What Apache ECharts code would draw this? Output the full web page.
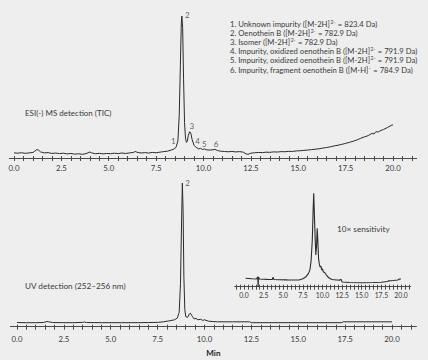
<!DOCTYPE html>
<html><head><meta charset="utf-8">
<script src="https://cdn.jsdelivr.net/npm/echarts@6/dist/echarts.min.js"></script>
<style>html,body{margin:0;padding:0;background:#eeeeee;}#c{width:428px;height:360px;}</style>
</head><body><div id="c"></div>
<script>
// MS (TIC) trace: time (min) and relative signal (axis = 0, main peak = 100)
const msTime = [0.0,0.2,0.4,0.6,0.8,1.0,1.1,1.2,1.3,1.4,1.6,1.8,2.0,2.2,2.4,2.6,2.8,3.0,3.2,3.4,3.6,3.8,4.0,4.1,4.3,4.5,4.7,4.9,5.1,5.3,5.5,5.7,5.9,6.1,6.3,6.4,6.5,6.7,6.9,7.1,7.3,7.5,7.7,7.9,8.1,8.3,8.45,8.55,8.65,8.72,8.78,8.83,8.86,8.9,8.95,9.0,9.05,9.1,9.15,9.2,9.27,9.33,9.4,9.5,9.6,9.65,9.75,9.85,9.95,10.05,10.15,10.3,10.45,10.6,10.75,10.9,11.1,11.3,11.5,11.7,11.9,12.1,12.25,12.35,12.5,12.7,12.9,13.1,13.3,13.5,13.7,13.9,14.1,14.3,14.5,14.7,14.9,15.1,15.3,15.5,15.7,15.9,16.1,16.3,16.5,16.7,16.9,17.1,17.3,17.5,17.7,17.9,18.1,18.3,18.5,18.7,18.9,19.0,19.1,19.2,19.3,19.5,19.7,19.9,20.0];
const msSignal = [3.6,3.4,3.7,3.3,3.6,3.9,4.8,5.9,5.5,4.3,3.6,3.8,3.2,3.5,3.1,3.4,2.9,3.2,2.7,3.0,2.6,3.1,4.2,3.6,3.0,3.3,2.9,3.2,3.0,3.4,3.1,3.5,3.2,3.6,3.9,4.6,4.0,3.5,3.8,3.5,3.9,3.7,4.1,4.5,4.8,5.6,6.4,7.5,12,30,65,95,100,92,55,25,14,11,12,16,18.5,17.5,13,9,7.5,7.2,6.4,6.8,6.0,6.4,5.8,5.6,5.7,6.1,5.2,4.8,4.6,4.4,4.6,4.3,4.5,4.1,2.9,2.6,3.4,3.7,3.9,3.8,4.1,4.0,4.3,4.2,4.5,4.4,4.7,4.6,5.0,5.1,5.4,5.6,5.9,6.2,6.5,7.0,7.4,7.9,8.5,9.0,9.6,10.3,11.0,11.8,12.7,13.9,14.9,15.8,17.4,16.9,18.6,18.2,19.0,20.1,21.4,22.9,23.4];

// UV trace
const uvTime = [0.0,0.5,1.0,1.4,1.6,1.7,1.9,2.5,3.0,3.5,3.6,3.7,4.5,5.5,6.5,7.0,7.5,7.8,8.1,8.4,8.55,8.65,8.72,8.78,8.82,8.86,8.9,8.95,9.0,9.1,9.2,9.25,9.35,9.45,9.55,9.65,9.8,9.9,10.0,10.2,10.4,10.7,11.5,12.4,12.5,15.0,17.3,17.4,20.0];
const uvSignal = [2.9,2.8,2.8,2.9,3.6,3.4,2.9,2.8,2.8,3.0,3.3,2.9,2.8,2.8,2.8,2.9,3.0,3.4,4.0,4.8,6.0,10,30,75,100,80,35,12,7,6.5,9.0,9.3,7.2,5.4,5.8,4.8,5.2,4.4,4.8,3.9,3.6,3.4,3.4,3.4,2.8,2.8,2.8,3.4,3.4];

// UV trace, 10x sensitivity (inset)
const uv10Time = [0.2,1.0,1.6,1.75,1.8,1.85,1.95,2.5,3.0,3.6,3.7,3.8,4.5,5.5,6.5,7.0,7.5,7.9,8.2,8.4,8.55,8.7,8.8,8.88,8.95,9.05,9.15,9.25,9.32,9.4,9.5,9.6,9.7,9.8,9.9,10.0,10.1,10.3,10.5,10.8,11.2,11.8,12.2,12.35,12.5,13.5,15.0,16.5,17.5,18.3,18.4,19.0,19.6,19.8,20.0];
const uv10Signal = [9.0,8.5,8.2,10.7,0,10.5,8.2,7.9,7.8,7.7,10.1,7.7,7.5,7.3,7.2,7.2,8.5,10.7,14,18,28,50,80,100,100,55,34,45,62.5,50,30,24,21,22,18,19,16,15,12.5,9.5,7.7,7.2,7.0,8.0,5.0,4.5,4.3,4.5,4.7,5.6,6.2,6.6,7.2,8.2,8.3];

// Peak labels
const msPeakNames = ['1','2','3','4','5','6'];
const msPeakTime = [8.41,9.15,9.38,9.69,10.04,10.66];
const msPeakLevel = [12,101,22.5,12,9.6,9.6];
const uvPeakNames = ['2'];
const uvPeakTime = [9.1];
const uvPeakLevel = [100];

// Tick labels
const mainTickLabels = [0,2.5,5,7.5,10,12.5,15,17.5,20];
const minorTicks = [];
for (let i = 0; i <= 42; i++) minorTicks.push(i * 0.5);
const insetTicks = [];
for (let i = -2; i <= 42; i++) insetTicks.push(i * 0.5);

// Legend lines: [before superscript, superscript, after]
const legendLines = [
  ['1. Unknown impurity ([M-2H]', '2-', ' = 823.4 Da)'],
  ['2. Oenothein B ([M-2H]', '2-', ' = 782.9 Da)'],
  ['3. Isomer ([M-2H]', '2-', ' = 782.9 Da)'],
  ['4. Impurity, oxidized oenothein B ([M-2H]', '2-', ' = 791.9 Da)'],
  ['5. Impurity, oxidized oenothein B ([M-2H]', '2-', ' = 791.9 Da)'],
  ['6. Impurity, fragment oenothein B ([M-H]', '-', ' = 784.9 Da)']
];

const zip = (a, b) => a.map((v, i) => [v, b[i]]);
const FONT = 'Lato, "Open Sans", sans-serif';
const AX = '#4a4a4a';
const TXT = '#3a3a3a';

function xAxisPair(grid, min, max, labelSize, margin, labelVals, tickVals) {
  return [{
    type: 'value', gridIndex: grid, min: min, max: max,
    axisLine: {show: true, lineStyle: {color: AX, width: 1}},
    axisTick: {show: true, length: 3, lineStyle: {color: AX}, customValues: tickVals},
    axisLabel: {show: true, color: TXT, fontSize: labelSize, fontFamily: FONT, margin: margin,
      customValues: labelVals, formatter: v => v.toFixed(1)},
    splitLine: {show: false}
  }, {
    type: 'value', gridIndex: grid, min: min, max: max, position: 'bottom',
    axisLine: {show: false},
    axisTick: {show: true, inside: true, length: 2, lineStyle: {color: AX}, customValues: tickVals},
    axisLabel: {show: false}, splitLine: {show: false}
  }];
}

const xAxes = [].concat(
  xAxisPair(0, -0.25, 21.25, 7.8, 6, mainTickLabels, minorTicks),
  xAxisPair(1, -0.35, 21.3, 7.8, 8, mainTickLabels, minorTicks),
  xAxisPair(2, -1.2, 21.2, 6.8, 5, mainTickLabels, insetTicks)
);
xAxes[2].name = 'Min';
xAxes[2].nameLocation = 'middle';
xAxes[2].nameGap = 22;
xAxes[2].nameTextStyle = {fontFamily: FONT, fontSize: 8, fontWeight: 'bold', color: '#222'};

const yAx = g => ({type: 'value', gridIndex: g, min: 0, max: 100, show: false});

const lineSeries = (xi, yi, data, w) => ({
  type: 'line', xAxisIndex: xi, yAxisIndex: yi, data: data, showSymbol: false,
  lineStyle: {color: '#2b2b2b', width: w}, clip: false, silent: true, animation: false
});
const labelSeries = (xi, yi, names, t, lv) => ({
  type: 'scatter', xAxisIndex: xi, yAxisIndex: yi, symbolSize: 0, clip: false, animation: false,
  data: names.map((n, i) => ({name: n, value: [t[i], lv[i]]})),
  label: {show: true, position: 'inside', formatter: p => p.name, color: TXT, fontSize: 8, fontFamily: FONT}
});

const LEG_SIZE = 7.7;
const legendGraphics = legendLines.map((l, i) => ({
  type: 'text', left: 230, top: 19.5 + i * 9.1,
  style: {
    text: l[0] + '{sup|' + l[1] + '}' + l[2],
    fill: TXT, fontSize: LEG_SIZE, fontFamily: FONT, lineHeight: 9,
    rich: {sup: {fontSize: 5, fontFamily: FONT, fill: TXT, verticalAlign: 'top', lineHeight: 9, padding: [0, 0.5, 0, 0.5]}}
  }
}));

const chart = echarts.init(document.getElementById('c'), null, {renderer: 'svg'});
chart.setOption({
  backgroundColor: '#eeeeee',
  animation: false,
  grid: [
    {left: 9.26, width: 407.4, top: 16, height: 142},
    {left: 10.4, width: 406, top: 183, height: 143.7},
    {left: 234.6, width: 175.8, top: 193.3, height: 93.4}
  ],
  xAxis: xAxes,
  yAxis: [yAx(0), yAx(1), yAx(2)],
  series: [
    lineSeries(0, 0, zip(msTime, msSignal), 1),
    lineSeries(2, 1, zip(uvTime, uvSignal), 1),
    lineSeries(4, 2, zip(uv10Time, uv10Signal), 1.1),
    labelSeries(0, 0, msPeakNames, msPeakTime, msPeakLevel),
    labelSeries(2, 1, uvPeakNames, uvPeakTime, uvPeakLevel)
  ],
  graphic: legendGraphics.concat([
    {type: 'text', left: 25, top: 108.5, style: {text: 'ESI(-) MS detection (TIC)', fill: TXT, fontSize: 8, fontFamily: FONT}},
    {type: 'text', left: 25, top: 282, style: {text: 'UV detection (252–256 nm)', fill: TXT, fontSize: 8.2, fontFamily: FONT}},
    {type: 'text', left: 337, top: 224.5, style: {text: '10× sensitivity', fill: TXT, fontSize: 8.2, fontFamily: FONT}}
  ])
});
</script></body></html>
